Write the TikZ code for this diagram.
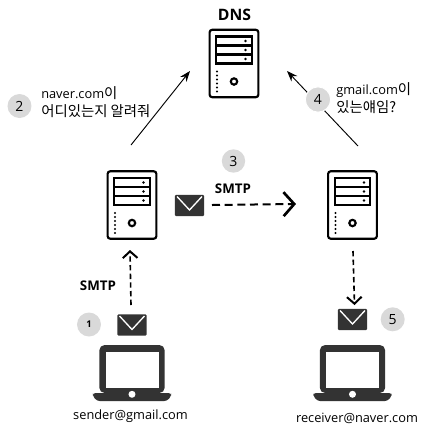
\documentclass[tikz,border=0pt]{standalone}
\usepackage{fontspec}
\setmainfont{Open Sans}
\newfontfamily\krfont{Noto Sans CJK KR}
\newcommand{\krtext}[1]{{\fontsize{10.8}{12}\selectfont\krfont #1}}
\usetikzlibrary{arrows.meta}
\definecolor{ink}{HTML}{333333}
\definecolor{badge}{HTML}{D9D9D9}
\tikzset{
  srv/.style={draw=black,line width=1.6pt,rounded corners=2pt,fill=white,minimum width=36.6pt,minimum height=50.6pt,inner sep=0pt},
  mailbox/.style={fill=ink,rounded corners=.8pt,minimum width=21.8pt,minimum height=16pt,inner sep=0pt},
  lapbody/.style={inner sep=0pt,minimum width=59pt,minimum height=42pt},
  num/.style={circle,fill=badge,inner sep=0pt,minimum size=18pt,font=\fontsize{10.5}{12}\selectfont},
  lab/.style={inner sep=0pt,font=\fontsize{9.6}{12}\selectfont,align=left,anchor=west},
  boldlab/.style={inner sep=0pt,font=\fontsize{10}{12}\selectfont\bfseries},
  solidarrow/.style={line width=.7pt,-{Stealth[length=8pt,width=6pt]}},
  mailarrow/.style={line width=1.2pt,dash pattern=on 4pt off 2.5pt,-{Straight Barb[length=5pt,width=11pt,line width=1.5pt]}},
  widearrow/.style={line width=1.5pt,dash pattern=on 6pt off 3.5pt,-{Straight Barb[length=8pt,width=18pt,line width=2pt]}},
  pics/srvinner/.style={code={
    \foreach \r in {-27,-18,-9}{
      \draw[black,line width=1.6pt] (-17.7,\r) rectangle (17.7,\r+9);
      \fill[black] (11.5,\r+4.5) circle (1.4);
    }
    \foreach \r in {8,12,16,20,24,28}{ \fill[black] (-17,\r) circle (1.2); }
    \draw[black,line width=1.6pt] (0,18) circle (3.2);
  }},
  pics/mailflap/.style={code={
    \draw[white,line width=1pt] (-12.5,-9) -- (0,4.5) -- (12.5,-9);
  }},
  pics/lapdraw/.style={code={
    \fill[ink,rounded corners=4pt] (-32.7,-28) -- (32.7,-28) -- (32.7,20) -- (-32.7,20) -- cycle;
    \fill[white] (-26.3,-21.3) rectangle (26.7,14.7);
    \fill[ink,rounded corners=2pt] (-39.2,20) -- (39.2,20) -- (39.2,23) -- (35,28) -- (-35,28) -- (-39.2,23) -- cycle;
    \fill[white] (0,21.3) circle (3.5);
  }},
}
\begin{document}
\begin{tikzpicture}[x=.75pt,y=-.75pt]
\useasboundingbox (0,0) rectangle (425,430);
% servers
\node[srv] (dns) at (234,63.5) {};
\pic at (dns.center) {srvinner};
\node[srv] (left) at (132,205) {};
\pic at (left.center) {srvinner};
\node[srv] (right) at (352.5,205) {};
\pic at (right.center) {srvinner};
\node[boldlab,font=\fontsize{11.8}{13}\selectfont\bfseries] (dnslabel) at (234.5,15) {DNS};
% laptops
\node[lapbody] (sender) at (132,373) {};
\pic at (sender.center) {lapdraw};
\node[lapbody] (receiver) at (352.5,373) {};
\pic at (receiver.center) {lapdraw};
\node[inner sep=0pt,font=\fontsize{9.6}{12}\selectfont] (sendertext) at (130.5,416.5) {sender@gmail.com};
\node[inner sep=0pt,font=\fontsize{9.6}{12}\selectfont] (receivertext) at (357,418.5) {receiver@naver.com};
% mails
\node[mailbox] (mail1) at (132,325) {};
\pic at (mail1.center) {mailflap};
\node[mailbox] (mail3) at (189.5,205.5) {};
\pic at (mail3.center) {mailflap};
\node[mailbox] (mail5) at (352.5,319.5) {};
\pic at (mail5.center) {mailflap};
% connector ends
\coordinate (a2s) at (131,145);
\coordinate (a2e) at (190,71);
\coordinate (a4s) at (358,146);
\coordinate (a4e) at (287,71);
\coordinate (d1s) at (131,305);
\coordinate (d1e) at (130,250);
\coordinate (d3s) at (212,205);
\coordinate (d3e) at (296,204);
\coordinate (d5s) at (353,251);
\coordinate (d5e) at (354.5,305);
\draw[solidarrow] (a2s) -- (a2e);
\draw[solidarrow] (a4s) -- (a4e);
\draw[mailarrow] (d1s) -- (d1e);
\draw[widearrow] (d3s) -- (d3e);
\draw[mailarrow] (d5s) -- (d5e);
% badges
\node[num] (n1) at (89,324.5) {\fontsize{7}{8}\selectfont\bfseries 1};
\node[num] (n2) at (19.5,106) {2};
\node[num,minimum size=17.5pt] (n3) at (233.5,161) {3};
\node[draw=white,line width=.75pt,num,minimum size=19pt] (n4) at (318,99.5) {4};
\node[num] (n5) at (392.7,319.3) {5};
\node[boldlab] (smtp1) at (98,286) {SMTP};
\node[boldlab] (smtp3) at (233,188.5) {SMTP};
\node[lab] (q2) at (41,102) {naver.com\krtext{이}\\[1pt]\krtext{어디있는지 알려줘}};
\node[lab] (q4) at (336,98) {gmail.com\krtext{이}\\[1pt]\krtext{있는얘임?}};
\end{tikzpicture}
\end{document}
